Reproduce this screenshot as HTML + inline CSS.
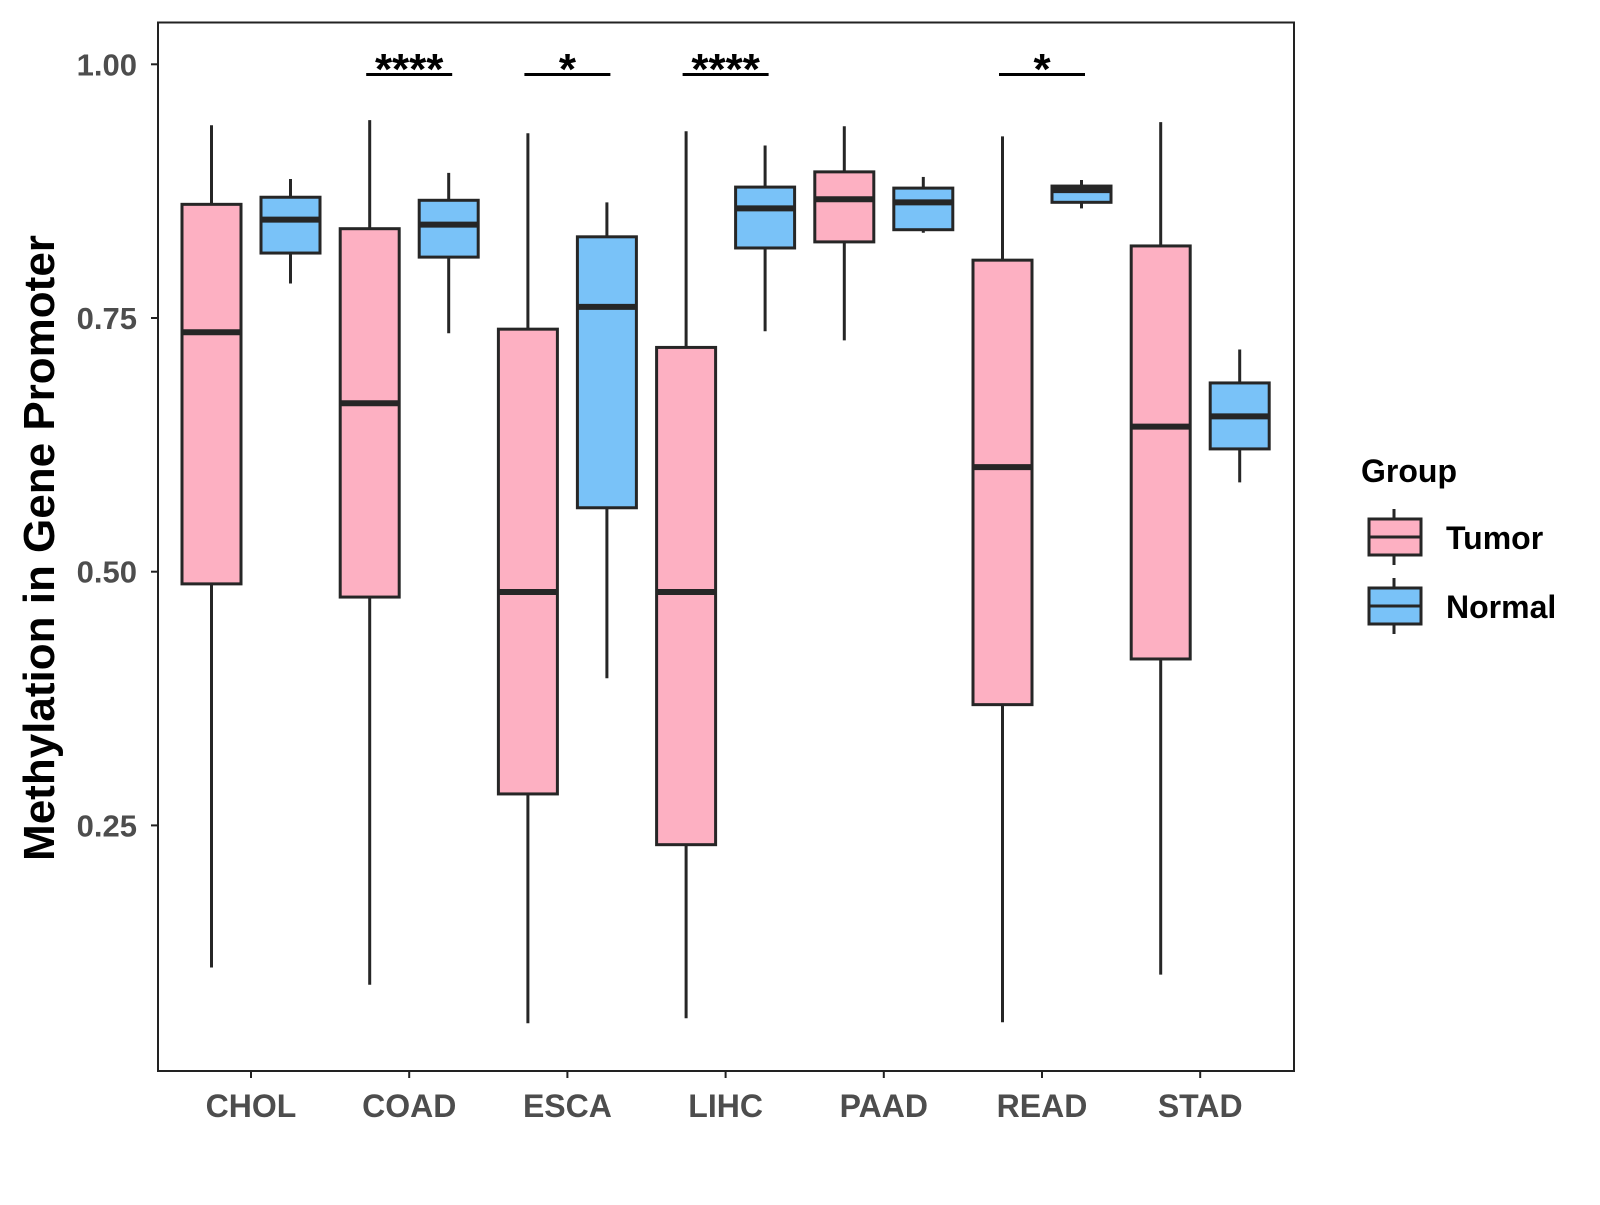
<!DOCTYPE html>
<html><head><meta charset="utf-8"><style>
body{margin:0;background:#fff;font-family:"Liberation Sans",Arial,sans-serif}
text{font-family:"Liberation Sans",Arial,sans-serif;font-weight:bold}
</style></head><body>
<svg id="chart" width="1600" height="1200" xmlns="http://www.w3.org/2000/svg">
<rect x="0" y="0" width="1600" height="1200" fill="#fff"/>
<rect x="158" y="22.5" width="1136" height="1048.5" fill="none" stroke="#222" stroke-width="2"/>
<g id="g"></g>
<text transform="translate(54,548) rotate(-90)" text-anchor="middle" font-size="44" fill="#000">Methylation in Gene Promoter</text>
<text x="1361" y="482" font-size="32" fill="#000">Group</text>
<g>
<line x1="1394" y1="509" x2="1394" y2="565" stroke="#262626" stroke-width="3"/>
<rect x="1369" y="519" width="52" height="36" fill="#FDB0C2" stroke="#262626" stroke-width="3"/>
<line x1="1369" y1="537" x2="1421" y2="537" stroke="#262626" stroke-width="3"/>
<text x="1446" y="549" font-size="32" fill="#000">Tumor</text></g>
<g>
<line x1="1394" y1="578" x2="1394" y2="634" stroke="#262626" stroke-width="3"/>
<rect x="1369" y="588" width="52" height="36" fill="#79C2F8" stroke="#262626" stroke-width="3"/>
<line x1="1369" y1="606" x2="1421" y2="606" stroke="#262626" stroke-width="3"/>
<text x="1446" y="618" font-size="32" fill="#000">Normal</text></g>
</svg>
<script>
const categories=["CHOL","COAD","ESCA","LIHC","PAAD","READ","STAD"];
const tumorStats=[[0.110,0.488,0.736,0.862,0.940],[0.093,0.475,0.666,0.838,0.945],[0.055,0.281,0.480,0.739,0.932],[0.060,0.231,0.480,0.721,0.934],[0.728,0.825,0.867,0.894,0.939],[0.056,0.369,0.603,0.807,0.929],[0.103,0.414,0.643,0.821,0.943]];
const normalStats=[[0.784,0.814,0.847,0.869,0.887],[0.735,0.810,0.842,0.866,0.893],[0.395,0.563,0.761,0.830,0.864],[0.737,0.819,0.858,0.879,0.920],[0.834,0.837,0.864,0.878,0.889],[0.858,0.864,0.876,0.880,0.886],[0.588,0.621,0.653,0.686,0.719]];
const signif=["","****","*","****","","*",""];
const yTicks=[0.25,0.5,0.75,1.0];
const yTickLabels=["0.25","0.50","0.75","1.00"];
const NS="http://www.w3.org/2000/svg";
const g=document.getElementById('g');
const y=v=>64.3+(1-v)*1014.8;
const x=i=>251+i*158.2;
function mk(t,a,p){const e=document.createElementNS(NS,t);for(const k in a)e.setAttribute(k,a[k]);(p||g).appendChild(e);return e;}
yTicks.forEach((v,i)=>{
 const t=mk('line',{x1:151,x2:158,y1:y(v),y2:y(v),stroke:'#222','stroke-width':2});
 
 
 const l=mk('text',{x:137,y:y(v)+11,'text-anchor':'end','font-size':31,fill:'#4d4d4d'});
 l.textContent=yTickLabels[i];
 
 
});
categories.forEach((c,i)=>{
 const t=mk('line',{x1:x(i),x2:x(i),y1:1071,y2:1078,stroke:'#222','stroke-width':2});
 
 
 const l=mk('text',{x:x(i),y:1117,'text-anchor':'middle','font-size':32,fill:'#4d4d4d'});
 l.textContent=c;
 
 
 [[tumorStats[i],-39.5,'#FDB0C2','tumor'],[normalStats[i],39.5,'#79C2F8','normal']].forEach(([s,off,col,nm])=>{
  const cx=x(i)+off, w=59;
  const bg=mk('g',{});
  
  
  mk('line',{x1:cx,x2:cx,y1:y(s[4]),y2:y(s[0]),stroke:'#262626','stroke-width':3},bg);
  mk('rect',{x:cx-w/2,y:y(s[3]),width:w,height:y(s[1])-y(s[3]),fill:col,stroke:'#262626','stroke-width':3},bg);
  mk('line',{x1:cx-w/2,x2:cx+w/2,y1:y(s[2]),y2:y(s[2]),stroke:'#262626','stroke-width':6},bg);
 });
 if(signif[i]){
  const sg=mk('g',{});
  
  
  mk('line',{x1:x(i)-43,x2:x(i)+43,y1:74.5,y2:74.5,stroke:'#000','stroke-width':3},sg);
  const st=mk('text',{x:x(i),y:84,'text-anchor':'middle','font-size':44,fill:'#000'},sg);
  st.textContent=signif[i];
 }
});
</script>
</body></html>
